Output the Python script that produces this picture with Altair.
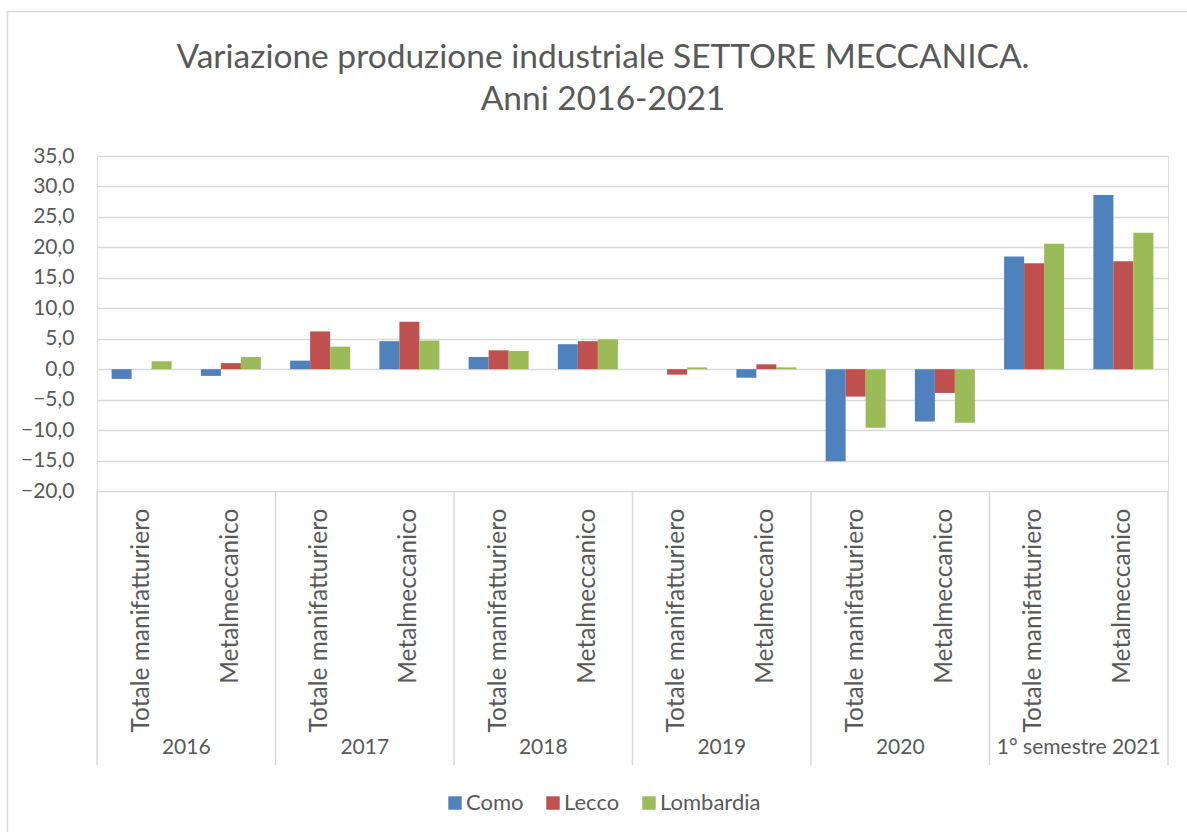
import altair as alt
import pandas as pd

# ---- data ----
years = ["2016", "2017", "2018", "2019", "2020", "1° semestre 2021"]
sectors = ["Totale manifatturiero", "Metalmeccanico"]
series_names = ["Como", "Lecco", "Lombardia"]
como = [-1.6, -1.1, 1.4, 4.6, 2.0, 4.1, 0.0, -1.4, -15.1, -8.6, 18.5, 28.6]
lecco = [0.0, 1.0, 6.2, 7.8, 3.1, 4.6, -0.9, 0.8, -4.5, -3.9, 17.4, 17.7]
lombardia = [1.3, 2.0, 3.7, 4.7, 3.0, 4.9, 0.3, 0.3, -9.6, -8.8, 20.6, 22.4]
colors = ["#4F81BD", "#C0504D", "#9BBB59"]
title_lines = ["Variazione produzione industriale SETTORE MECCANICA.", "Anni 2016-2021"]
y_ticks = [-20, -15, -10, -5, 0, 5, 10, 15, 20, 25, 30, 35]

keys = [f"{y}|{s}" for y in years for s in sectors]
rows = []
for name, vals in zip(series_names, [como, lecco, lombardia]):
    for k, v in zip(keys, vals):
        rows.append({"key": k, "series": name, "value": v})
df = pd.DataFrame(rows)

year_df = pd.DataFrame({"key": [f"{y}|{sectors[0]}" for y in years], "year": years})
end_df = pd.DataFrame({"key": [keys[-1]]})
one = pd.DataFrame({"a": [0]})

W, H = 1071, 335
TXT = "#595959"
GRID = "#d9d9d9"
FONT = "Lato"

x_scale = alt.Scale(domain=keys, paddingInner=0, paddingOuter=0)
x_axis = alt.Axis(
    title=None, labelAngle=270, labelExpr="split(datum.label, '|')[1]",
    domain=False, ticks=False, grid=False, labelPadding=17, labelFontSize=24.5,
    labelColor=TXT, labelFont=FONT, labelLimit=400,
)

bars = alt.Chart(df).mark_bar().encode(
    x=alt.X("key:N", sort=keys, scale=x_scale, axis=x_axis),
    xOffset=alt.XOffset("series:N", sort=series_names,
                        scale=alt.Scale(domain=series_names, paddingInner=0, paddingOuter=0.731)),
    y=alt.Y("value:Q", scale=alt.Scale(domain=[-20, 35], nice=False),
            axis=alt.Axis(title=None, values=y_ticks,
                          labelExpr="replace(format(datum.value, '.1f'), '.', ',')",
                          domain=False, ticks=False, grid=True, gridColor=GRID, gridWidth=1.5,
                          labelPadding=23, labelFontSize=21, labelColor=TXT, labelFont=FONT)),
    color=alt.Color("series:N", scale=alt.Scale(domain=series_names, range=colors),
                    legend=alt.Legend(orient="none", legendX=347, legendY=636, direction="horizontal",
                                      title=None, symbolType="square", symbolSize=180,
                                      symbolStrokeWidth=0, labelFontSize=22, labelFont=FONT,
                                      labelColor=TXT, columnPadding=18, labelOffset=0)),
)

seps = alt.Chart(year_df).mark_rule(color=GRID, strokeWidth=1.5).encode(
    x=alt.X("key:N", sort=keys, scale=x_scale, axis=x_axis, bandPosition=0),
    y=alt.value(H), y2=alt.value(609),
)
end_sep = alt.Chart(end_df).mark_rule(color=GRID, strokeWidth=1.5).encode(
    x=alt.X("key:N", sort=keys, scale=x_scale, axis=x_axis, bandPosition=1),
    y=alt.value(H), y2=alt.value(609),
)
year_text = alt.Chart(year_df).mark_text(fontSize=21, font=FONT, color=TXT, baseline="middle").encode(
    x=alt.X("key:N", sort=keys, scale=x_scale, axis=x_axis, bandPosition=1),
    y=alt.value(592),
    text="year:N",
)

border = alt.Chart(one).mark_rect(fill="transparent", stroke=GRID, strokeWidth=1.5).encode(
    x=alt.value(-89.5), x2=alt.value(1120), y=alt.value(-144.5), y2=alt.value(720),
)
t1 = alt.Chart(one).mark_text(text=title_lines[0], fontSize=33.5, font=FONT, color=TXT,
                              baseline="middle", align="center").encode(
    x=alt.value(506), y=alt.value(-98))
t2 = alt.Chart(one).mark_text(text=title_lines[1], fontSize=33.5, font=FONT, color=TXT,
                              baseline="middle", align="center").encode(
    x=alt.value(506), y=alt.value(-56))

chart = alt.layer(border, bars, seps, end_sep, year_text, t1, t2).properties(
    width=W, height=H,
    autosize=alt.AutoSizeParams(type="none"),
    padding={"left": 97, "top": 156, "right": 19, "bottom": 341},
).configure_view(stroke=None).configure(background="white")

chart.save("out.html", embed_options={"renderer": "svg", "actions": False})
